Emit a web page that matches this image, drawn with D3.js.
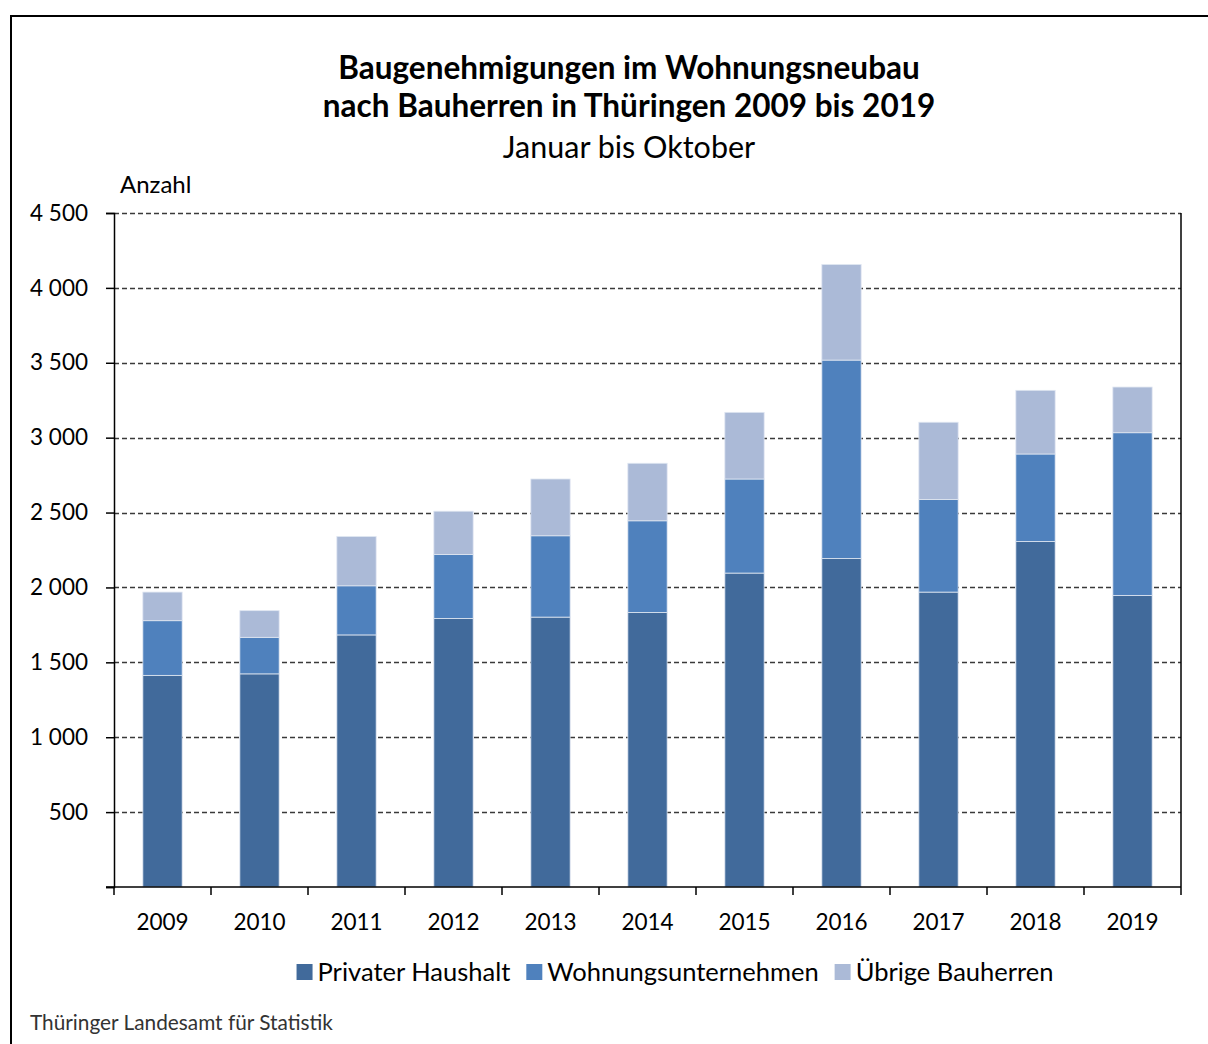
<!DOCTYPE html>
<html>
<head>
<meta charset="utf-8">
<script src="https://cdn.jsdelivr.net/npm/d3@7"></script>
<style>
  body { margin: 0; background: #fff; }
  svg { font-family: Lato, "Open Sans", sans-serif; }
</style>
</head>
<body>
<svg id="chart" width="1208" height="1044"></svg>
<script>
// data (Jan - Oct)
const years = ["2009", "2010", "2011", "2012", "2013", "2014", "2015", "2016", "2017", "2018", "2019"];
const privat = [1413, 1423, 1683, 1793, 1802, 1833, 2096, 2193, 1969, 2307, 1947];
const wohnung = [365, 244, 328, 427, 543, 612, 628, 1325, 618, 584, 1086];
const uebrige = [191, 178, 329, 289, 379, 384, 445, 638, 516, 425, 305];
const seriesNames = ["Privater Haushalt", "Wohnungsunternehmen", "Übrige Bauherren"];
const colors = ["#416a9b", "#4f81bd", "#abbad7"];
const yTicks = [500, 1000, 1500, 2000, 2500, 3000, 3500, 4000, 4500];
const yTickLabels = ["500", "1 000", "1 500", "2 000", "2 500", "3 000", "3 500", "4 000", "4 500"];

const svg = d3.select("#chart");
const W = 1208, H = 1044;
const m = {left: 114, right: 1181, top: 213, bottom: 887};

// frame
svg.append("path")
   .attr("d", `M11,${H + 5}V16H${W + 5}`)
   .attr("fill", "none")
   .attr("stroke", "#000")
   .attr("stroke-width", 2);

// titles
const titles = svg.append("g").attr("text-anchor", "middle");
titles.append("text").attr("x", 629).attr("y", 79)
      .attr("font-size", 31.5).attr("font-weight", "bold")
      .text("Baugenehmigungen im Wohnungsneubau");
titles.append("text").attr("x", 629).attr("y", 117)
      .attr("font-size", 31.5).attr("font-weight", "bold")
      .text("nach Bauherren in Thüringen 2009 bis 2019");
titles.append("text").attr("x", 629).attr("y", 158)
      .attr("font-size", 30.5)
      .text("Januar bis Oktober");

svg.append("text").attr("x", 120).attr("y", 193)
   .attr("font-size", 24).text("Anzahl");

const x = d3.scaleBand().domain(years).range([m.left, m.right]).paddingInner(0.595).paddingOuter(0.2975);
const xOuter = d3.scaleBand().domain(years).range([m.left, m.right]);
const y = d3.scaleLinear().domain([0, 4500]).range([m.bottom, m.top]);

// gridlines
svg.append("g")
   .selectAll("line")
   .data(yTicks)
   .join("line")
   .attr("x1", m.left).attr("x2", m.right)
   .attr("y1", d => Math.round(y(d)) + 0.5).attr("y2", d => Math.round(y(d)) + 0.5)
   .attr("stroke", "#3a3a3a")
   .attr("stroke-width", 1.3)
   .attr("stroke-dasharray", "5,3");

// stacked bars
const rows = years.map((yr, i) => ({year: yr, p: privat[i], w: wohnung[i], u: uebrige[i]}));
const stack = d3.stack().keys(["p", "w", "u"])(rows);

svg.append("g")
   .selectAll("g")
   .data(stack)
   .join("g")
   .attr("fill", (d, i) => colors[i])
   .selectAll("rect")
   .data(d => d)
   .join("rect")
   .attr("x", d => x(d.data.year))
   .attr("y", d => y(d[1]))
   .attr("width", x.bandwidth())
   .attr("height", d => y(d[0]) - y(d[1]))
   .attr("stroke", "#dfe6f1")
   .attr("stroke-width", 0.8);

// y axis
const yAxis = d3.axisLeft(y)
   .tickValues([0].concat(yTicks))
   .tickFormat(d => d === 0 ? "" : yTickLabels[yTicks.indexOf(d)])
   .tickSize(8)
   .tickPadding(18);
const gy = svg.append("g").attr("transform", `translate(${m.left},0)`).call(yAxis);
gy.select(".domain").attr("stroke", "#000").attr("stroke-width", 1.5);
gy.selectAll(".tick line").attr("stroke", "#000").attr("stroke-width", 1.5);
gy.selectAll("text").attr("font-size", 22.5).attr("fill", "#000").attr("font-family", "Lato, sans-serif");

// right border
svg.append("line")
   .attr("x1", m.right).attr("x2", m.right)
   .attr("y1", m.top).attr("y2", m.bottom + 8)
   .attr("stroke", "#000").attr("stroke-width", 1.5);

// x axis
const xAxis = d3.axisBottom(xOuter).tickSize(0).tickPadding(27);
const gx = svg.append("g").attr("transform", `translate(0,${m.bottom})`).call(xAxis);
gx.select(".domain").remove();
gx.selectAll("text").attr("font-size", 22.5).attr("fill", "#000").attr("font-family", "Lato, sans-serif");
svg.append("line")
   .attr("x1", m.left - 8).attr("x2", m.right)
   .attr("y1", m.bottom).attr("y2", m.bottom)
   .attr("stroke", "#000").attr("stroke-width", 1.5);
svg.append("g")
   .selectAll("line")
   .data(years.slice(1))
   .join("line")
   .attr("x1", d => xOuter(d)).attr("x2", d => xOuter(d))
   .attr("y1", m.bottom).attr("y2", m.bottom + 8)
   .attr("stroke", "#000").attr("stroke-width", 1.5);
svg.append("line")
   .attr("x1", m.left).attr("x2", m.left)
   .attr("y1", m.bottom).attr("y2", m.bottom + 8)
   .attr("stroke", "#000").attr("stroke-width", 1.5);

// legend
const legend = svg.append("g");
const items = legend.selectAll("g")
   .data(seriesNames)
   .join("g");
items.append("rect")
   .attr("width", 16).attr("height", 16).attr("y", 964)
   .attr("fill", (d, i) => colors[i]);
items.append("text")
   .attr("x", 21).attr("y", 981)
   .attr("font-size", 25.5)
   .text(d => d);
let lx = 0;
items.each(function () {
  const w = this.getBBox().width;
  d3.select(this).attr("data-x", lx);
  lx += w + 16;
});
const offset = 675 - (lx - 16) / 2;
items.attr("transform", function () { return `translate(${offset + (+this.getAttribute("data-x"))},0)`; });

// source
svg.append("text").attr("x", 30).attr("y", 1030)
   .attr("font-size", 20.8).attr("fill", "#333")
   .text("Thüringer Landesamt für Statistik");
</script>
</body>
</html>
